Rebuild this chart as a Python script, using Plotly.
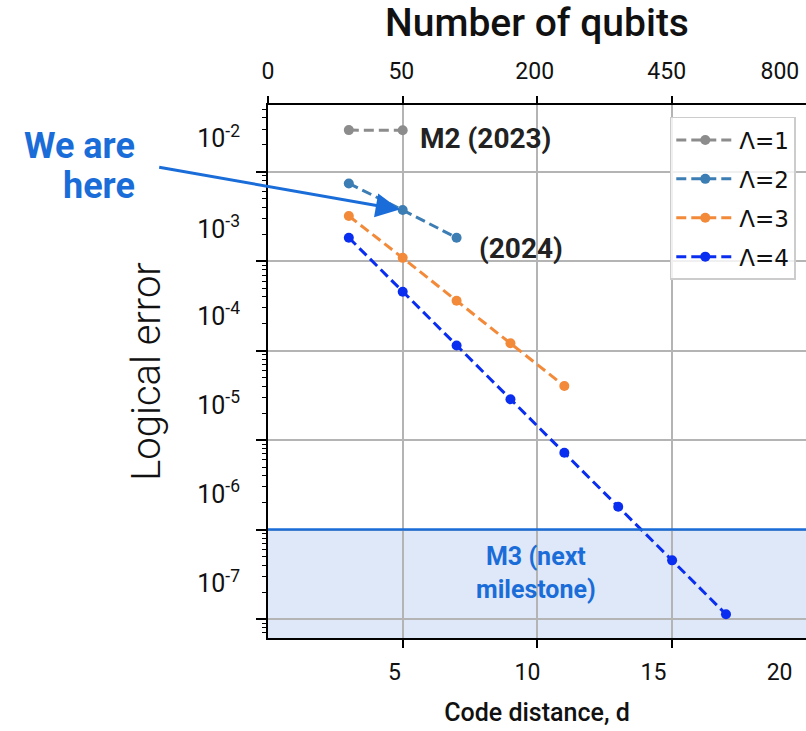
import plotly.graph_objects as go
import numpy as np

# ---------------- data ----------------
d_l1 = [3, 5]
err_l1 = [0.0292, 0.0291]
d_l2 = [3, 5, 7]
err_l2 = [7.4e-3, 3.73e-3, 1.83e-3]
d_l3 = [3, 5, 7, 9, 11]
err_l3 = [3.2e-3, 1.09e-3, 3.61e-4, 1.21e-4, 4.03e-5]
d_l4 = [3, 5, 7, 9, 11, 13, 15, 17]
err_l4 = [1.83e-3, 4.56e-4, 1.14e-4, 2.86e-5, 7.23e-6, 1.80e-6, 4.53e-7, 1.13e-7]

series_names = ["Λ=1", "Λ=2", "Λ=3", "Λ=4"]
series_colors = ["#8c8c8c", "#3c7db4", "#f28a3a", "#0a2ef0"]

d_ticks = [5, 10, 15]
d_tick_labels = ["5", "10", "15", "20"]
qubit_ticks = [0, 5, 10, 15]
qubit_labels = ["0", "50", "200", "450", "800"]
decades = [1e-2, 1e-3, 1e-4, 1e-5, 1e-6, 1e-7]
decade_labels = ["10<sup>-2</sup>", "10<sup>-3</sup>", "10<sup>-4</sup>",
                 "10<sup>-5</sup>", "10<sup>-6</sup>", "10<sup>-7</sup>"]
m3_threshold = 1e-6

# ---------------- layout constants ----------------
XR = [0, 19.97]
YR = [-7.212, -1.254]
bottom_label_pos = [4.69, 9.63, 14.31, 18.99]
top_label_pos = [0.0, 4.95, 9.9, 14.8, 19.0]
y_label_pos = [10 ** v for v in [-1.63, -2.64, -3.61, -4.61, -5.60, -6.60]]
minor_vals = [k * 10.0 ** e for e in range(-8, 0) for k in range(2, 10)]
m3_frac = (np.log10(m3_threshold) - YR[0]) / (YR[1] - YR[0])

FONT = "Roboto"
BLUE = "#1a6dd8"
GRID = "#b4b4b4"

fig = go.Figure()

for dd, ee, nm, col in zip([d_l1, d_l2, d_l3, d_l4], [err_l1, err_l2, err_l3, err_l4],
                           series_names, series_colors):
    fig.add_trace(go.Scatter(
        x=dd, y=ee, name=nm, mode="lines+markers",
        line=dict(color=col, width=3, dash="10px,5px"),
        marker=dict(color=col, size=10),
        legendgroup=nm,
    ))

# empty helper traces so overlay axes are drawn
for xa, ya in [("x2", "y"), ("x3", "y"), ("x4", "y"), ("x", "y2"), ("x", "y3")]:
    fig.add_trace(go.Scatter(x=[None], y=[None], xaxis=xa, yaxis=ya,
                             showlegend=False, hoverinfo="skip"))

# M3 band and line
fig.add_shape(type="rect", xref="x domain", yref="y domain", x0=0, x1=1,
              y0=0, y1=m3_frac,
              fillcolor="#dfe8f8", line=dict(width=0), layer="below")
fig.add_shape(type="line", xref="x domain", yref="y domain", x0=0, x1=1,
              y0=m3_frac, y1=m3_frac,
              line=dict(color=BLUE, width=2.5), layer="above")

ann_font_dark = dict(family=FONT, size=28, color="#222222", weight="bold")
fig.add_annotation(x=5.55, y=-1.63, text="M2 (2023)", showarrow=False,
                   xanchor="left", yanchor="middle", font=ann_font_dark)
fig.add_annotation(x=7.75, y=-2.853, text="(2024)", showarrow=False,
                   xanchor="left", yanchor="middle", font=ann_font_dark)
fig.add_annotation(x=9.94, y=-6.486, text="M3 (next<br>milestone)", showarrow=False,
                   xanchor="center", yanchor="middle", align="center",
                   font=dict(family=FONT, size=25, color=BLUE, weight="bold"))
fig.add_annotation(xref="paper", x=-0.2435, y=-1.713, text="We are", showarrow=False,
                   xanchor="right", yanchor="middle",
                   font=dict(family=FONT, size=36, color=BLUE, weight="bold"))
fig.add_annotation(xref="paper", x=-0.2435, y=-2.16, text="here", showarrow=False,
                   xanchor="right", yanchor="middle",
                   font=dict(family=FONT, size=36, color=BLUE, weight="bold"))
fig.add_annotation(x=5, y=np.log10(err_l2[1]), text="", showarrow=True,
                   ax=-245, ay=-43, arrowhead=2, arrowsize=1.6, arrowwidth=3,
                   arrowcolor=BLUE, standoff=3)

tick_font = dict(family=FONT, size=23, color="#111111")

fig.update_layout(
    width=806, height=731,
    plot_bgcolor="white", paper_bgcolor="white",
    margin=dict(l=268, r=0, t=105, b=93, autoexpand=False),
    showlegend=True,
    legend=dict(x=0.981, y=0.9775, xanchor="right", yanchor="top",
                bgcolor="rgba(255,255,255,0.8)", bordercolor="#cccccc", borderwidth=1.5,
                font=dict(family="DejaVu Sans", size=23, color="#111111"),
                itemwidth=58, entrywidth=75, traceorder="grouped", tracegroupgap=6),
    xaxis=dict(range=XR, tickvals=d_ticks, ticks="outside", ticklen=8, tickwidth=2,
               tickcolor="black", showticklabels=False, showgrid=True, gridcolor=GRID,
               gridwidth=1.5, showline=True, linecolor="black", linewidth=2, zeroline=False,
               title=dict(text="Code distance, d", standoff=56,
                          font=dict(family=FONT, size=25, color="#111111", weight=500))),
    xaxis3=dict(range=XR, overlaying="x", anchor="y", side="bottom",
                tickvals=bottom_label_pos, ticktext=d_tick_labels, ticks="outside",
                ticklen=13, tickcolor="rgba(0,0,0,0)", showgrid=False, showline=False,
                zeroline=False, tickfont=tick_font),
    xaxis2=dict(range=XR, overlaying="x", anchor="y", side="top",
                tickvals=qubit_ticks, ticks="outside", ticklen=7, tickwidth=1.5,
                tickcolor="black", showticklabels=False, showgrid=False, showline=True,
                linecolor="black", linewidth=2, zeroline=False,
                title=dict(text="Number of qubits", standoff=58,
                           font=dict(family=FONT, size=39, color="#111111", weight=500))),
    xaxis4=dict(range=XR, overlaying="x", anchor="y", side="top",
                tickvals=top_label_pos, ticktext=qubit_labels, ticks="outside",
                ticklen=16, tickcolor="rgba(0,0,0,0)", showgrid=False, showline=False,
                zeroline=False, tickfont=tick_font),
    yaxis=dict(type="log", range=YR, tickvals=decades, ticks="outside", ticklen=10,
               tickwidth=1.5, tickcolor="black", showticklabels=False, showgrid=True,
               gridcolor=GRID, gridwidth=1.5, showline=True, linecolor="black",
               linewidth=2, zeroline=False),
    yaxis2=dict(type="log", range=YR, overlaying="y", anchor="x", side="left",
                tickvals=minor_vals, ticks="outside", ticklen=5, tickwidth=1.2,
                tickcolor="black", showticklabels=False, showgrid=False, showline=False,
                zeroline=False),
    yaxis3=dict(type="log", range=YR, overlaying="y", anchor="x", side="left",
                tickvals=y_label_pos, ticktext=decade_labels, ticks="outside", ticklen=22,
                tickcolor="rgba(0,0,0,0)", showgrid=False, showline=False, zeroline=False,
                tickfont=dict(family=FONT, size=25, color="#111111"),
                title=dict(text="Logical error", standoff=24,
                           font=dict(family=FONT, size=40, color="#111111", weight=300))),
)

page_fix = "document.body.style.margin='0px'; document.body.style.overflow='hidden';"
fig.write_html("out.html", post_script=page_fix, config={"displayModeBar": False})
